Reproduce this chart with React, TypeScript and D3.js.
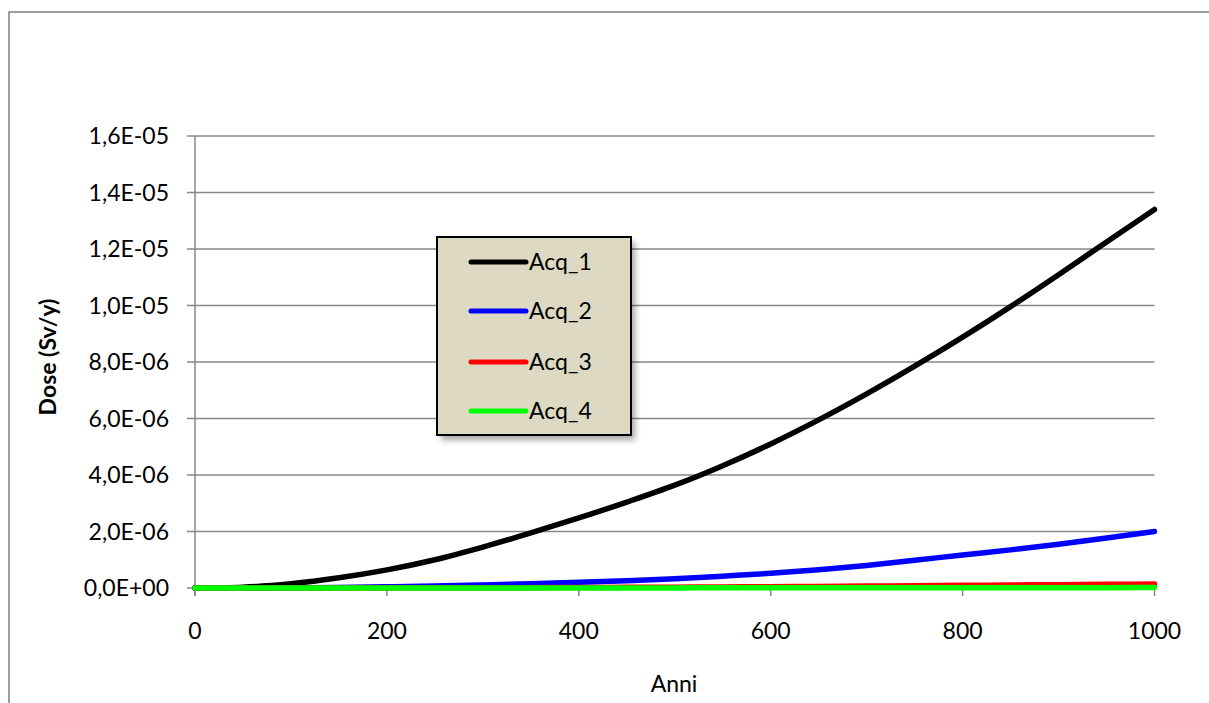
import React from "react";
import * as d3 from "d3";

const years = [0, 50, 100, 150, 200, 250, 300, 350, 400, 450, 500, 550, 600, 650, 700, 750, 800, 850, 900, 950, 1000];
const acq1 = [0, 3e-8, 1.5e-7, 3.6e-7, 6.4e-7, 1.0e-6, 1.45e-6, 1.95e-6, 2.48e-6, 3.04e-6, 3.64e-6, 4.33e-6, 5.1e-6, 5.95e-6, 6.87e-6, 7.85e-6, 8.88e-6, 9.96e-6, 1.109e-5, 1.225e-5, 1.34e-5];
const acq2 = [0, 2e-9, 8e-9, 2e-8, 4e-8, 7e-8, 1.1e-7, 1.5e-7, 2.0e-7, 2.6e-7, 3.3e-7, 4.2e-7, 5.2e-7, 6.5e-7, 8.0e-7, 9.8e-7, 1.17e-6, 1.35e-6, 1.55e-6, 1.77e-6, 2.0e-6];
const acq3 = [0, 0, 1e-9, 2e-9, 4e-9, 6e-9, 9e-9, 1.3e-8, 1.8e-8, 2.4e-8, 3.0e-8, 3.8e-8, 4.7e-8, 5.7e-8, 6.8e-8, 8.0e-8, 9.3e-8, 1.05e-7, 1.17e-7, 1.3e-7, 1.42e-7];
const acq4 = [0, 0, 0, 0, 1e-9, 1e-9, 2e-9, 2e-9, 3e-9, 3e-9, 4e-9, 5e-9, 6e-9, 7e-9, 8e-9, 9e-9, 1e-8, 1.1e-8, 1.2e-8, 1.3e-8, 1.5e-8];

const seriesNames = ["Acq_1", "Acq_2", "Acq_3", "Acq_4"];
const seriesValues = [acq1, acq2, acq3, acq4];
const seriesColors = ["#000000", "#0000FF", "#FF0000", "#00FF00"];

const yTicks = [0, 2e-6, 4e-6, 6e-6, 8e-6, 1e-5, 1.2e-5, 1.4e-5, 1.6e-5];
const xTicks = [0, 200, 400, 600, 800, 1000];

const fmtY = (v: number) => {
  if (v === 0) return "0,0E+00";
  const e = Math.floor(Math.log10(v) + 1e-9);
  const m = v / Math.pow(10, e);
  const sign = e < 0 ? "-" : "+";
  const ae = Math.abs(e);
  return `${m.toFixed(1).replace(".", ",")}E${sign}${ae < 10 ? "0" + ae : ae}`;
};

export default function App() {
  const W = 1209, H = 703;
  const x = d3.scaleLinear().domain([0, 1000]).range([195, 1154.5]);
  const y = d3.scaleLinear().domain([0, 1.6e-5]).range([588, 136]);
  const line = d3.line<number>().x((_, i) => x(years[i])).y((d) => y(d)).curve(d3.curveMonotoneX);
  const font = "Lato, 'Open Sans', sans-serif";
  const grid = "#878787";
  const fs = 23;

  const legX = 437, legY = 237, legW = 194, legH = 198;
  const legRows = [262, 311, 362, 411];

  return (
    <svg width={W} height={H} style={{ position: "absolute", left: 0, top: 0 }} fontFamily={font}>
      <defs>
        <filter id="sh" x="-20%" y="-20%" width="150%" height="150%">
          <feGaussianBlur stdDeviation="3" />
        </filter>
      </defs>
      <rect x={0} y={0} width={W} height={H} fill="#fff" />
      <path d={`M9,${H + 5} V12 H${W + 5}`} fill="none" stroke="#7f7f7f" strokeWidth={1.5} />

      {yTicks.map((t) => (
        <g key={t}>
          <line x1={187} x2={1154.5} y1={y(t)} y2={y(t)} stroke={grid} strokeWidth={1.5} />
          <text x={169} y={y(t) + 8} textAnchor="end" fontSize={fs} fill="#000">{fmtY(t)}</text>
        </g>
      ))}
      <line x1={195} x2={195} y1={136} y2={596} stroke={grid} strokeWidth={1.5} />
      {xTicks.map((t) => (
        <g key={t}>
          <line x1={x(t)} x2={x(t)} y1={588} y2={596} stroke={grid} strokeWidth={1.5} />
          <text x={x(t)} y={639} textAnchor="middle" fontSize={fs} fill="#000">{t}</text>
        </g>
      ))}

      <text x={674} y={692} textAnchor="middle" fontSize={fs} fill="#000">Anni</text>
      <text transform="translate(56,357) rotate(-90)" textAnchor="middle" fontSize={fs} fontWeight="bold" fill="#000">Dose (Sv/y)</text>

      {seriesValues.map((vals, i) => (
        <path key={i} d={line(vals) || ""} fill="none" stroke={seriesColors[i]} strokeWidth={5.5} strokeLinecap="round" strokeLinejoin="round" />
      ))}

      <rect x={legX + 4} y={legY + 5} width={legW} height={legH} fill="#000" opacity={0.35} filter="url(#sh)" />
      <rect x={legX} y={legY} width={legW} height={legH} fill="#DDD9C3" stroke="#000" strokeWidth={2} />
      {seriesNames.map((n, i) => (
        <g key={n}>
          <line x1={471} x2={526} y1={legRows[i]} y2={legRows[i]} stroke={seriesColors[i]} strokeWidth={5} strokeLinecap="round" />
          <text x={529} y={legRows[i] + 8} fontSize={fs} fill="#000">{n}</text>
        </g>
      ))}
    </svg>
  );
}
